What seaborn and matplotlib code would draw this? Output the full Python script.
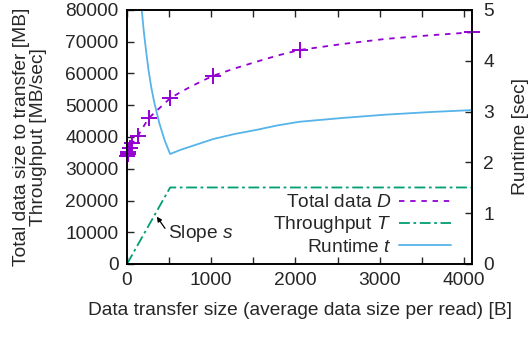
import matplotlib
matplotlib.use("Agg")
import pandas as pd
import seaborn as sns
from matplotlib import pyplot as plt
from matplotlib.ticker import MultipleLocator, FixedLocator, FuncFormatter

# data
size_pts = [4, 8, 16, 32, 64, 128, 256, 512, 1024, 2048, 4096]
total_pts = [34000, 34700, 35200, 36400, 38000, 40300, 45900, 52200, 59300, 67400, 72980]

size_curve = [4, 8, 16, 32, 64, 128, 256, 512, 640, 768, 896, 1024, 1280, 1536, 1792,
              2048, 2560, 3072, 3584, 4096]
total_curve = [34000, 34700, 35200, 36400, 38000, 40300, 45900, 52200, 54200, 56000, 57700, 59300,
               61600, 63700, 65700, 67400, 69300, 70900, 72000, 72980]

size_thr = [0, 512, 4096]
throughput = [0, 24100, 24100]

size_rt = [175, 200, 224, 256, 288, 320, 384, 448, 512, 640, 768, 896, 1024, 1280, 1536, 1792,
           2048, 2560, 3072, 3584, 4096]
runtime = [5.0, 4.57, 4.23, 3.81, 3.48, 3.21, 2.77, 2.43, 2.165, 2.25, 2.32, 2.39, 2.46, 2.56,
           2.64, 2.73, 2.80, 2.875, 2.94, 2.99, 3.03]

C_D = "#9400D3"
C_T = "#009E73"
C_R = "#56B4E9"

sns.set_style("ticks")
plt.rcParams["font.family"] = ["Liberation Sans", "DejaVu Sans"]
plt.rcParams["mathtext.fontset"] = "custom"
plt.rcParams["mathtext.it"] = "Liberation Sans:italic"
plt.rcParams["mathtext.rm"] = "Liberation Sans"
FS = 13.8

fig = plt.figure(figsize=(5.30, 3.37), dpi=100)
ax = fig.add_axes([127/530, 1-264/337, 345/530, 254/337])
ax2 = ax.twinx()

dfc = pd.DataFrame({"x": size_curve, "y": total_curve})
sns.lineplot(data=dfc, x="x", y="y", ax=ax, color=C_D, lw=1.3, linestyle=(0, (3, 3.2)))
dfp = pd.DataFrame({"x": size_pts, "y": total_pts})
ax.plot(dfp["x"], dfp["y"], ls="none", marker="+", ms=11, mew=1.4, color=C_D, clip_on=False, zorder=5)

dft = pd.DataFrame({"x": size_thr, "y": throughput})
sns.lineplot(data=dft, x="x", y="y", ax=ax, color=C_T, lw=1.3, linestyle=(0, (6, 2, 1.5, 2)))

dfr = pd.DataFrame({"x": size_rt, "y": runtime})
sns.lineplot(data=dfr, x="x", y="y", ax=ax2, color=C_R, lw=1.3)

ax.set_xlim(0, 4096)
ax.set_ylim(0, 80000)
ax2.set_ylim(0, 5)

ax.xaxis.set_major_locator(FixedLocator([0, 500, 1000, 1500, 2000, 2500, 3000, 3500, 4000]))
ax.xaxis.set_major_formatter(FuncFormatter(lambda v, p: "%d" % v if v % 1000 == 0 else ""))
ax.yaxis.set_major_locator(MultipleLocator(10000))
ax2.yaxis.set_major_locator(MultipleLocator(1))

ax.tick_params(axis="x", direction="in", top=True, length=5, width=1, labelsize=FS, pad=6)
ax.tick_params(axis="y", direction="in", right=False, length=5, width=1, labelsize=FS, pad=6)
ax2.tick_params(axis="y", direction="in", length=5, width=1, labelsize=FS, pad=8)
for a in (ax, ax2):
    for s in a.spines.values():
        s.set_visible(True)
        s.set_linewidth(1.2)
        s.set_color("black")

ax.set_xlabel("Data transfer size (average data size per read) [B]", fontsize=FS, labelpad=9)
ax.set_ylabel("Total data size to transfer [MB]\nThroughput [MB/sec]", fontsize=FS, labelpad=13, linespacing=1.0)
ax2.set_ylabel("Runtime [sec]", fontsize=FS, labelpad=13)

ax.annotate("Slope $s$", xy=(354, 14900), xytext=(490, 9760), fontsize=FS,
            ha="left", va="center",
            arrowprops=dict(arrowstyle="-|>", color="black", lw=0.9, mutation_scale=7,
                            shrinkA=0, shrinkB=0, relpos=(0, 0.5)))

h1 = plt.Line2D([], [], color=C_D, lw=1.3, linestyle=(0, (3, 3.2)))
h2 = plt.Line2D([], [], color=C_T, lw=1.3, linestyle=(0, (6, 2, 1.5, 2)))
h3 = plt.Line2D([], [], color=C_R, lw=1.3)
ax2.legend([h1, h2, h3], ["Total data $D$", "Throughput $T$", "Runtime $t$"],
           loc="lower right", bbox_to_anchor=(0.977, -0.02), frameon=False, markerfirst=False,
           fontsize=FS, handlelength=2.7, handletextpad=0.4, labelspacing=0.15, borderpad=0.2)

fig.savefig("out.png", dpi=100)
